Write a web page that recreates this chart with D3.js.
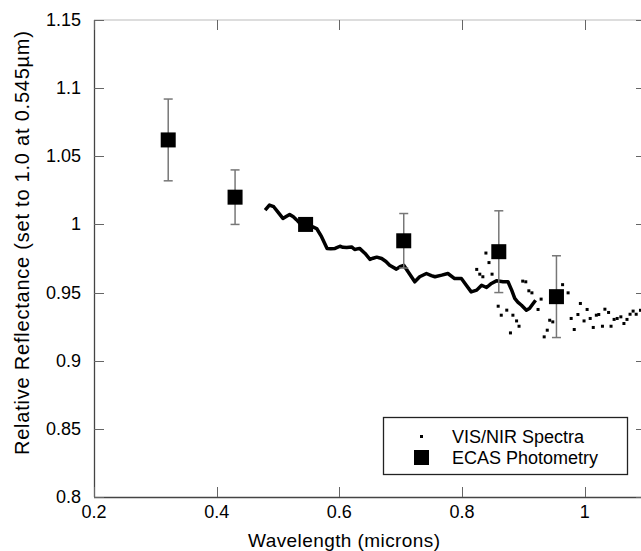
<!DOCTYPE html>
<html><head><meta charset="utf-8">
<script src="https://cdn.jsdelivr.net/npm/d3@7"></script>
<style>body{margin:0;background:#fff}svg{display:block}text{font-family:"Liberation Sans",Arial,sans-serif;fill:#000}</style>
</head><body><svg id="c" width="641" height="551"></svg>
<script>
// ECAS photometry
const photWl  = [0.321, 0.430, 0.545, 0.705, 0.860, 0.954];
const photVal = [1.062, 1.020, 1.000, 0.988, 0.980, 0.947];
const photErr = [0.030, 0.020, 0.000, 0.020, 0.030, 0.030];
// VIS spectrum (dense part)
const specWl  = [0.479,0.486,0.493,0.500,0.508,0.514,0.519,0.525,0.530,0.536,0.545,0.555,0.563,0.571,0.580,0.586,0.593,0.601,0.606,0.612,0.620,0.625,0.633,0.642,0.650,0.655,0.661,0.669,0.676,0.682,0.693,0.699,0.705,0.714,0.723,0.731,0.742,0.750,0.756,0.767,0.777,0.788,0.799,0.807,0.815,0.824,0.832,0.840,0.848,0.856,0.867,0.875,0.881,0.886,0.891,0.897,0.905,0.910,0.916,0.920];
const specVal = [1.0105,1.0142,1.0130,1.0090,1.0044,1.0060,1.0073,1.0056,1.0035,1.0007,1.0000,0.9985,0.9970,0.9910,0.9824,0.9822,0.9824,0.9840,0.9832,0.9831,0.9835,0.9816,0.9824,0.9787,0.9743,0.9752,0.9760,0.9750,0.9728,0.9700,0.9672,0.9690,0.9700,0.9640,0.9579,0.9616,0.9640,0.9625,0.9616,0.9628,0.9640,0.9603,0.9603,0.9554,0.9505,0.9518,0.9554,0.9537,0.9567,0.9586,0.9579,0.9579,0.9518,0.9457,0.9430,0.9407,0.9371,0.9383,0.9420,0.9444];
// NIR spectrum (scattered points)
const nirWl  = [0.839,0.844,0.824,0.829,0.834,0.849,0.859,0.864,0.873,0.883,0.889,0.893,0.879,0.899,0.904,0.909,0.914,0.929,0.924,0.943,0.948,0.939,0.934,0.964,0.973,0.978,0.983,0.989,0.993,0.999,1.004,1.009,1.014,1.019,1.023,1.029,1.033,1.039,1.043,1.048,1.053,1.059,1.064,1.069,1.074,1.079,1.084,1.091];
const nirVal = [0.979,0.972,0.967,0.9635,0.9616,0.9635,0.940,0.9334,0.9371,0.9334,0.9292,0.9253,0.9204,0.9584,0.9579,0.9513,0.9498,0.9452,0.9376,0.9297,0.9285,0.9224,0.9175,0.9558,0.9498,0.9310,0.9229,0.9339,0.942,0.9292,0.9376,0.931,0.9244,0.9334,0.9339,0.9253,0.9378,0.9354,0.9253,0.9303,0.931,0.9322,0.9273,0.9303,0.9341,0.9364,0.9341,0.937];
const xTicks = [0.2, 0.4, 0.6, 0.8, 1.0];
const xTickLabels = ["0.2", "0.4", "0.6", "0.8", "1"];
const yTicks = [0.8, 0.85, 0.9, 0.95, 1.0, 1.05, 1.1, 1.15];
const yTickLabels = ["0.8", "0.85", "0.9", "0.95", "1", "1.05", "1.1", "1.15"];

const svg = d3.select("#c");
const L = 94, T = 20, R = 646, B = 497;
const x = d3.scaleLinear().domain([0.2, 1.1]).range([L, R]);
const y = d3.scaleLinear().domain([0.8, 1.15]).range([B, T]);
const FS = 18;

// frame
svg.append("line").attr("x1", L).attr("x2", R).attr("y1", T).attr("y2", T).attr("stroke", "#bbb").attr("stroke-width", 1.2);
svg.append("line").attr("x1", R).attr("x2", R).attr("y1", T).attr("y2", B).attr("stroke", "#555");
svg.append("line").attr("x1", L).attr("x2", R).attr("y1", B+0.5).attr("y2", B+0.5).attr("stroke", "#444").attr("stroke-width", 1.3);
svg.append("line").attr("x1", L+0.5).attr("x2", L+0.5).attr("y1", T).attr("y2", B).attr("stroke", "#444").attr("stroke-width", 1.3);

// ticks (inward, mirrored)
const tk = 10;
xTicks.forEach((v, i) => {
  const px = Math.round(x(v)) + 0.5;
  svg.append("line").attr("x1", px).attr("x2", px).attr("y1", B).attr("y2", B - tk).attr("stroke", "#666");
  svg.append("line").attr("x1", px).attr("x2", px).attr("y1", T).attr("y2", T + tk).attr("stroke", "#666");
  svg.append("text").attr("x", x(v)).attr("y", 518).attr("text-anchor", "middle").attr("font-size", FS).text(xTickLabels[i]);
});
yTicks.forEach((v, i) => {
  const py = Math.round(y(v)) + 0.5;
  svg.append("line").attr("x1", L).attr("x2", L + tk).attr("y1", py).attr("y2", py).attr("stroke", "#666");
  svg.append("line").attr("x1", R).attr("x2", R - tk).attr("y1", py).attr("y2", py).attr("stroke", "#666");
  svg.append("text").attr("x", 81).attr("y", y(v) + 6).attr("text-anchor", "end").attr("font-size", FS).text(yTickLabels[i]);
});

// axis titles
svg.append("text").attr("x", 344).attr("y", 547).attr("text-anchor", "middle").attr("font-size", 19)
  .attr("textLength", 192).attr("lengthAdjust", "spacing").text("Wavelength (microns)");
svg.append("text").attr("transform", "translate(29,243) rotate(-90)").attr("text-anchor", "middle").attr("font-size", 20)
  .attr("textLength", 424).attr("lengthAdjust", "spacing").text("Relative Reflectance (set to 1.0 at 0.545\u00b5m)");

// spectrum dense line
const spec = specWl.map((w, i) => [w, specVal[i]]);
svg.append("path").datum(spec).attr("fill", "none").attr("stroke", "#000").attr("stroke-width", 3.5).attr("stroke-linejoin", "round")
  .attr("d", d3.line().x(d => x(d[0])).y(d => y(d[1])));
// scattered points
svg.selectAll("rect.nir").data(nirWl.map((w, i) => [w, nirVal[i]])).enter().append("rect").attr("class", "nir")
  .attr("x", d => x(d[0]) - 1.5).attr("y", d => y(d[1]) - 1.5).attr("width", 3).attr("height", 3).attr("fill", "#000");

// error bars
const phot = photWl.map((w, i) => ({w, v: photVal[i], e: photErr[i]}));
const eb = svg.selectAll("g.eb").data(phot.filter(d => d.e > 0)).enter().append("g").attr("stroke", "#777").attr("stroke-width", 1.5);
eb.append("line").attr("x1", d => x(d.w)).attr("x2", d => x(d.w)).attr("y1", d => y(d.v + d.e)).attr("y2", d => y(d.v - d.e));
eb.append("line").attr("x1", d => x(d.w) - 4.5).attr("x2", d => x(d.w) + 4.5).attr("y1", d => y(d.v + d.e)).attr("y2", d => y(d.v + d.e));
eb.append("line").attr("x1", d => x(d.w) - 4.5).attr("x2", d => x(d.w) + 4.5).attr("y1", d => y(d.v - d.e)).attr("y2", d => y(d.v - d.e));
// squares
const S = 15;
svg.selectAll("rect.ph").data(phot).enter().append("rect").attr("class", "ph")
  .attr("x", d => x(d.w) - S / 2).attr("y", d => y(d.v) - S / 2).attr("width", S).attr("height", S).attr("fill", "#000");

// legend
const lg = svg.append("g");
lg.append("rect").attr("x", 383.5).attr("y", 417.5).attr("width", 244).attr("height", 57).attr("fill", "#fff").attr("stroke", "#222").attr("stroke-width", 1.3);
lg.append("rect").attr("x", 420).attr("y", 435).attr("width", 3).attr("height", 3).attr("fill", "#000");
lg.append("rect").attr("x", 414).attr("y", 450).attr("width", S).attr("height", S).attr("fill", "#000");
lg.append("text").attr("x", 452).attr("y", 443).attr("font-size", 18).text("VIS/NIR Spectra");
lg.append("text").attr("x", 452).attr("y", 464).attr("font-size", 18).text("ECAS Photometry");
</script></body></html>
